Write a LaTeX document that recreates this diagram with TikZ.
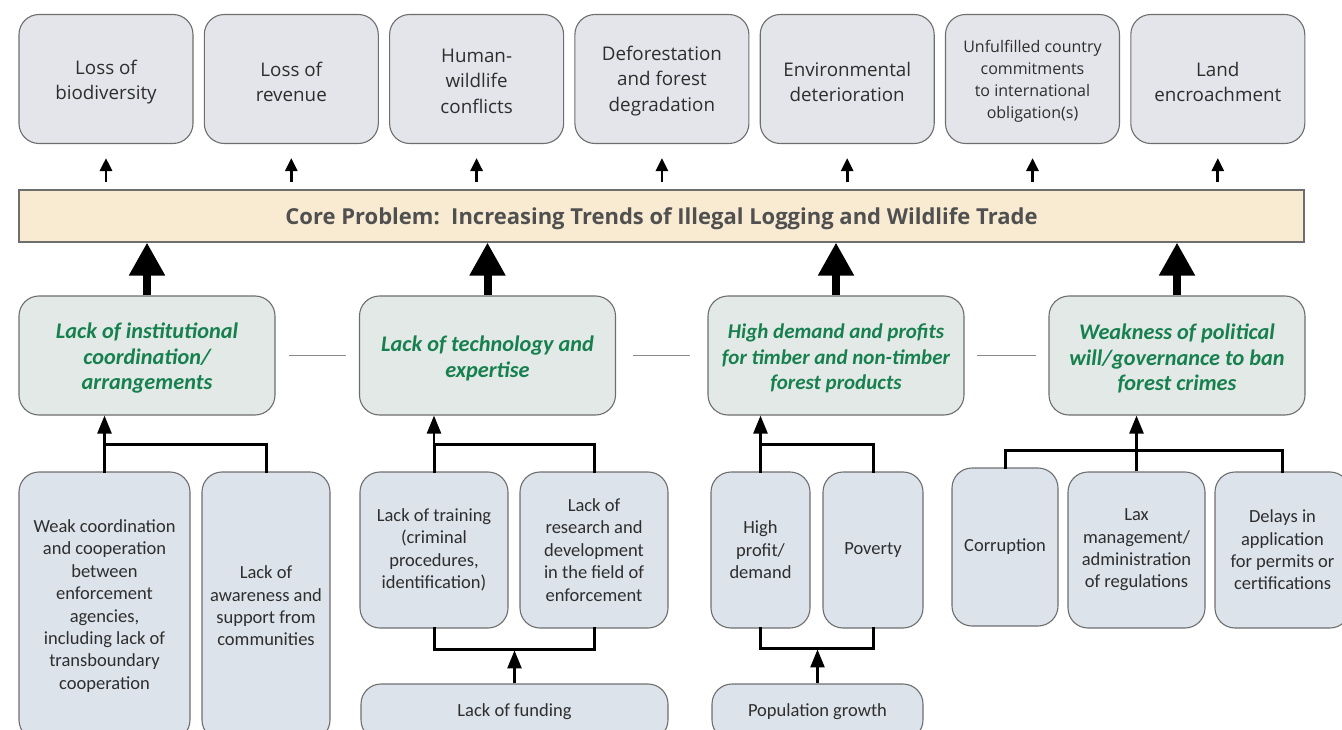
\documentclass[tikz,border=0pt]{standalone}
\usepackage{fontspec}
\setmainfont{Open Sans}
\newfontfamily\cfont{Carlito}
\usetikzlibrary{arrows.meta}
\definecolor{topfill}{HTML}{E4E5EA}
\definecolor{barfill}{HTML}{F8EBD2}
\definecolor{midfill}{HTML}{E3E9E6}
\definecolor{botfill}{HTML}{DCE3EA}
\definecolor{boxline}{HTML}{6E6E6E}
\definecolor{txt}{HTML}{2E2E2E}
\definecolor{coretxt}{HTML}{505050}
\definecolor{greentxt}{HTML}{17804F}
\definecolor{linkgray}{HTML}{8A8A8A}
\begin{document}
\begin{tikzpicture}[x=1pt,y=-1pt,
  topbox/.style={draw=boxline, fill=topfill, rounded corners=20pt, line width=1.1pt,
    minimum width=174pt, minimum height=129pt, inner sep=0pt},
  toptext/.style={inner sep=0pt, align=center, text=txt, font=\fontsize{18.8}{25.5}\selectfont},
  smalltop/.style={font=\fontsize{16}{22}\selectfont},
  corebar/.style={draw=boxline, fill=barfill, line width=1.1pt,
    minimum width=1285pt, minimum height=52pt, inner sep=0pt},
  coretext/.style={inner sep=0pt, text=coretxt, font=\bfseries\fontsize{22}{24}\selectfont},
  midbox/.style={draw=boxline, fill=midfill, rounded corners=20pt, line width=1.1pt,
    minimum width=256pt, minimum height=119pt, inner sep=0pt},
  midtext/.style={inner sep=0pt, align=center,
    text=greentxt, font=\cfont\bfseries\itshape\fontsize{22.3}{25.5}\selectfont},
  midnarrow/.style={font=\cfont\bfseries\itshape\fontsize{21}{25.5}\selectfont},
  botbox/.style={draw=boxline, fill=botfill, rounded corners=20pt, line width=1.1pt,
    inner sep=0pt, align=center, text=txt,
    font=\cfont\fontsize{18.5}{22.4}\selectfont},
  sarr/.style={line width=2.8pt, -{Triangle[length=13pt,width=12pt]}, shorten <=7pt, shorten >=14pt},
  barr/.style={line width=8pt, -{Triangle[length=33pt,width=34pt]}},
  bline/.style={line width=3pt, line cap=rect},
  barr2/.style={line width=2.5pt, -{Triangle[length=18pt,width=14pt]}},
  link/.style={draw=linkgray, line width=1.2pt}
]
\useasboundingbox (0,0) rectangle (1342,730);
\clip (0,0) rectangle (1342,730);

% top effect boxes
\node[topbox] (e1) at (106,79) {};
\node[topbox] (e2) at (291.3,79) {};
\node[topbox] (e3) at (476.6,79) {};
\node[topbox] (e4) at (661.9,79) {};
\node[topbox] (e5) at (847.2,79) {};
\node[topbox] (e6) at (1032.5,79) {};
\node[topbox] (e7) at (1217.8,79) {};
\node[toptext] (e1t) at ([yshift=-3pt]e1.center) {Loss of\\biodiversity};
\node[toptext] (e2t) at ([yshift=-3pt]e2.center) {Loss of\\revenue};
\node[toptext] (e3t) at ([yshift=-2pt]e3.center) {Human-\\wildlife\\conflicts};
\node[toptext] (e4t) at ([yshift=-2pt]e4.center) {Deforestation\\and forest\\degradation};
\node[toptext] (e5t) at ([yshift=-3pt]e5.center) {Environmental\\deterioration};
\node[toptext,smalltop] (e6t) at ([yshift=-2pt]e6.center) {Unfulfilled country\\commitments\\to international\\obligation(s)};
\node[toptext] (e7t) at ([yshift=-3pt]e7.center) {Land\\encroachment};

% core problem
\node[corebar] (core) at (661.5,216) {};
\node[coretext] (coret) at ([yshift=-3pt]core.center) {Core Problem:\ \ Increasing Trends of Illegal Logging and Wildlife Trade};

\foreach \n in {e1,e2,e3,e4,e5,e6,e7}
  \draw[sarr] (\n.south |- core.north) -- (\n.south);

% middle causes
\node[midbox] (m1) at (147,355.5) {};
\node[midbox] (m2) at (487.5,355.5) {};
\node[midbox] (m3) at (836,355.5) {};
\node[midbox] (m4) at (1177,355.5) {};
\node[midtext] (m1t) at ([yshift=-3pt]m1.center) {Lack of institutional\\coordination/\\arrangements};
\node[midtext] (m2t) at ([yshift=-3pt]m2.center) {Lack of technology and\\expertise};
\node[midtext,midnarrow] (m3t) at ([yshift=-3pt]m3.center) {High demand and profits\\for timber and non-timber\\forest products};
\node[midtext] (m4t) at ([yshift=-3pt]m4.center) {Weakness of political\\will/governance to ban\\forest crimes};

\foreach \n in {m1,m2,m3,m4}
  \draw[barr] (\n.north) -- (\n.north |- core.south);

\draw[link] ([xshift=13pt]m1.east) -- ([xshift=-13pt]m2.west);
\draw[link] ([xshift=17pt]m2.east) -- ([xshift=-17pt]m3.west);
\draw[link] ([xshift=12pt]m3.east) -- ([xshift=-12pt]m4.west);

% bottom group 1
\node[botbox, minimum width=171pt, minimum height=268pt] (w1) at (104.5,606)
  {Weak coordination\\and cooperation\\between\\enforcement\\agencies,\\including lack of\\transboundary\\cooperation};
\node[botbox, minimum width=128pt, minimum height=268pt] (w2) at (266,606)
  {Lack of\\awareness and\\support from\\communities};
\draw[bline] (w2.north) -- ++(0,-27) -| (w1.north);
\draw[barr2] (w1.north) -- (w1.north |- m1.south);

% bottom group 2
\node[botbox, minimum width=148pt, minimum height=156pt] (t1) at (434,550)
  {Lack of training\\(criminal\\procedures,\\identification)};
\node[botbox, minimum width=148pt, minimum height=156pt] (t2) at (594,550)
  {Lack of\\research and\\development\\in the field of\\enforcement};
\node[botbox, minimum width=307pt, minimum height=56pt] (f1) at (514.5,712) {Lack of funding};
\draw[bline] (t2.north) -- ++(0,-27) -| (t1.north);
\draw[barr2] (t1.north) -- (t1.north |- m2.south);
\draw[bline] (t1.south) -- ++(0,21) -| (t2.south);
\coordinate (fj) at ([yshift=33pt]f1.north);
\draw[barr2] (f1.north) -- (fj);

% bottom group 3
\node[botbox, minimum width=99pt, minimum height=156pt] (h1) at (760.5,550)
  {High\\profit/\\demand};
\node[botbox, minimum width=100pt, minimum height=156pt] (h2) at (873,550) {Poverty};
\node[botbox, minimum width=211pt, minimum height=56pt] (p1) at (817.5,712) {Population growth};
\draw[bline] (h2.north) -- ++(0,-27) -| (h1.north);
\draw[barr2] (h1.north) -- (h1.north |- m3.south);
\draw[bline] (h1.south) -- ++(0,20) -| (h2.south);
\coordinate (pj) at ([yshift=34pt]p1.north);
\draw[barr2] (p1.north) -- (pj);

% bottom group 4
\node[botbox, minimum width=106pt, minimum height=158pt] (c1) at (1005,547) {Corruption};
\node[botbox, minimum width=137pt, minimum height=156pt] (c2) at (1136.5,550)
  {Lax\\management/\\administration\\of regulations};
\node[botbox, minimum width=135pt, minimum height=156pt] (c3) at (1282.5,550)
  {Delays in\\application\\for permits or\\certifications};
\draw[bline] (c1.north) -- ++(0,-17) -| (c3.north);
\draw[barr2] (c2.north) -- (c2.north |- m4.south);
\end{tikzpicture}
\end{document}
